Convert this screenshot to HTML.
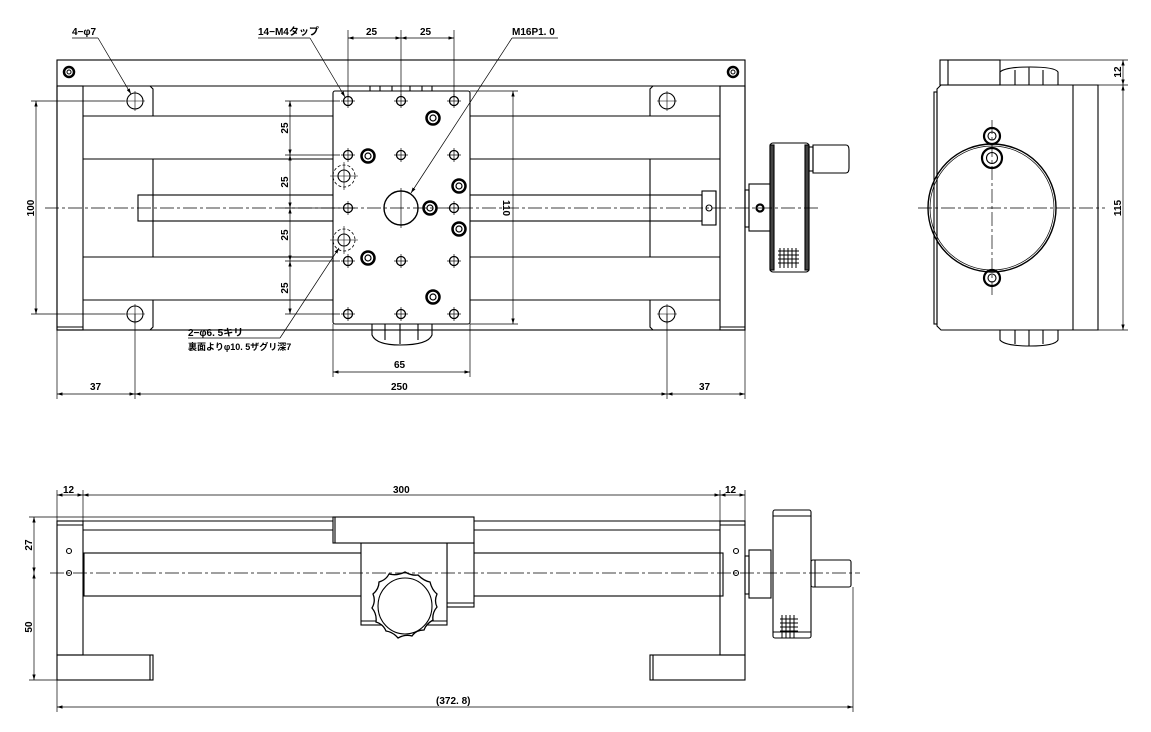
<!DOCTYPE html>
<html><head><meta charset="utf-8"><style>
html,body{margin:0;padding:0;background:#fff;}
svg{display:block;}
text{font-family:"Liberation Sans","Noto Sans CJK JP",sans-serif;font-weight:bold;font-size:10px;fill:#000;}
</style></head><body>
<svg width="1151" height="732" viewBox="0 0 1151 732" xmlns="http://www.w3.org/2000/svg">
<defs>
<marker id="a" viewBox="0 0 10 6" refX="10" refY="3" markerWidth="8" markerHeight="5" orient="auto-start-reverse"><path d="M0,0 L10,3 L0,6 z" fill="#000"/></marker>
<g id="tap"><circle r="4.5" fill="none" stroke="#000" stroke-width="1.3"/><line x1="-7" y1="0" x2="7" y2="0" stroke="#000" stroke-width="0.7"/><line x1="0" y1="-7" x2="0" y2="7" stroke="#000" stroke-width="0.7"/></g>
<g id="cb"><circle r="6.5" fill="none" stroke="#000" stroke-width="2.5"/><circle r="3" fill="none" stroke="#000" stroke-width="1.2"/></g>
<g id="mh"><circle r="8" fill="none" stroke="#000" stroke-width="1.1"/><line x1="-10" y1="0" x2="10" y2="0" stroke="#000" stroke-width="0.6"/><line x1="0" y1="-10" x2="0" y2="10" stroke="#000" stroke-width="0.6"/></g>
</defs>
<g fill="none" stroke="#000" stroke-width="1.1">
<!-- ===== TOP VIEW ===== -->
<rect x="57" y="60" width="688" height="270"/>
<line x1="57" y1="86" x2="745" y2="86"/>
<rect x="57" y="86" width="26" height="244"/>
<line x1="57" y1="327" x2="83" y2="327"/>
<rect x="720" y="86" width="25" height="244"/>
<line x1="720" y1="327" x2="745" y2="327"/>
<!-- base plates -->
<path d="M83,86 H150 L153,89 V116 M83,300 H153 V327 L150,330"/>
<path d="M720,86 H653 L650,89 V116 M720,300 H650 V327 L653,330"/>
<!-- rails -->
<line x1="83" y1="116" x2="720" y2="116"/>
<line x1="83" y1="159" x2="720" y2="159"/>
<line x1="83" y1="257" x2="720" y2="257"/>
<line x1="83" y1="300" x2="720" y2="300"/>
<line x1="153" y1="159" x2="153" y2="257"/>
<line x1="650" y1="159" x2="650" y2="257"/>
<rect x="138" y="195" width="564" height="26"/>
<rect x="702" y="191" width="14" height="34"/>
<line x1="716" y1="191" x2="716" y2="225"/>
<circle cx="709" cy="208" r="3"/>
<!-- carriage -->
<rect x="333" y="91" width="137" height="233" rx="2" fill="#fff"/>
<path d="M370,91 V86 H432 V91 M380,86 V91 M392,86 V91 M410,86 V91 M422,86 V91"/>
<path d="M372,324 V335 Q376,345 400,345 Q428,345 432,335 V324 M385,324 V340 M400,324 V344 M418,324 V340"/>
<circle cx="401" cy="208" r="17" stroke-width="1.4"/>
</g>
<g>
<use href="#tap" x="348" y="101"/><use href="#tap" x="401" y="101"/><use href="#tap" x="454" y="101"/>
<use href="#tap" x="348" y="155"/><use href="#tap" x="401" y="155"/><use href="#tap" x="454" y="155"/>
<use href="#tap" x="348" y="208"/><use href="#tap" x="454" y="208"/>
<use href="#tap" x="348" y="261"/><use href="#tap" x="401" y="261"/><use href="#tap" x="454" y="261"/>
<use href="#tap" x="348" y="314"/><use href="#tap" x="401" y="314"/><use href="#tap" x="454" y="314"/>
<use href="#cb" x="433" y="118"/><use href="#cb" x="368" y="156"/><use href="#cb" x="459" y="186"/>
<use href="#cb" x="430" y="208"/><use href="#cb" x="459" y="229"/><use href="#cb" x="368" y="258"/><use href="#cb" x="433" y="297"/>
<use href="#mh" x="135" y="101"/><use href="#mh" x="135" y="314"/><use href="#mh" x="667" y="101"/><use href="#mh" x="667" y="314"/>
</g>
<g fill="none" stroke="#000">
<circle cx="344" cy="176" r="6" stroke-width="1.1"/><circle cx="344" cy="176" r="11" stroke-dasharray="3,2" stroke-width="0.8"/>
<path d="M330,176 H358 M344,162 V190" stroke-width="0.6"/>
<circle cx="344" cy="240" r="6" stroke-width="1.1"/><circle cx="344" cy="240" r="11" stroke-dasharray="3,2" stroke-width="0.8"/>
<path d="M330,240 H358 M344,226 V254" stroke-width="0.6"/>
<circle cx="69" cy="72" r="5" stroke-width="2.5"/><circle cx="69" cy="72" r="2" stroke-width="1"/>
<circle cx="733" cy="72" r="5" stroke-width="2.5"/><circle cx="733" cy="72" r="2" stroke-width="1"/>
<!-- handwheel top -->
<g stroke-width="1.1">
<rect x="745" y="190" width="4" height="37"/>
<rect x="749" y="184" width="22" height="47"/>
<rect x="770" y="143" width="39" height="129" rx="3"/>
<rect x="770" y="145" width="4" height="125" fill="#444"/>
<rect x="805" y="145" width="4" height="125" fill="#444"/>
<rect x="809" y="147" width="4" height="24"/>
<path d="M813,145 H846 Q849,145 849,150 V168 Q849,173 846,173 H813 Z"/>
</g>
<circle cx="760" cy="208" r="3.5" stroke-width="2.2"/>
<path d="M780,248 V268 M784,248 V268 M788,248 V268 M792,248 V268 M796,248 V268 M778,251 H799 M778,255 H799 M778,259 H799 M778,263 H799" stroke-width="1"/>
<!-- centerline -->
<line x1="45" y1="208" x2="820" y2="208" stroke-width="0.7" stroke-dasharray="14,3,3,3"/>
<line x1="401" y1="188" x2="401" y2="228" stroke-width="0.7"/>
<!-- dims top view -->
<g stroke-width="0.7">
<path d="M348,30 V96 M401,30 V96 M454,30 V96"/>
<line x1="348" y1="38" x2="401" y2="38" marker-start="url(#a)" marker-end="url(#a)"/>
<line x1="401" y1="38" x2="454" y2="38" marker-start="url(#a)" marker-end="url(#a)"/>
<path d="M285,101 H340 M285,155 H340 M285,208 H340 M285,261 H340 M285,314 H340"/>
<line x1="290" y1="101" x2="290" y2="155" marker-start="url(#a)" marker-end="url(#a)"/>
<line x1="290" y1="155" x2="290" y2="208" marker-start="url(#a)" marker-end="url(#a)"/>
<line x1="290" y1="208" x2="290" y2="261" marker-start="url(#a)" marker-end="url(#a)"/>
<line x1="290" y1="261" x2="290" y2="314" marker-start="url(#a)" marker-end="url(#a)"/>
<path d="M31,101 H125 M31,314 H125"/>
<line x1="36" y1="101" x2="36" y2="314" marker-start="url(#a)" marker-end="url(#a)"/>
<path d="M470,91 H518 M470,324 H518"/>
<line x1="513" y1="91" x2="513" y2="324" marker-start="url(#a)" marker-end="url(#a)"/>
<path d="M333,324 V377 M470,324 V377"/>
<line x1="333" y1="372" x2="470" y2="372" marker-start="url(#a)" marker-end="url(#a)"/>
<path d="M57,330 V399 M745,330 V399 M135,314 V399 M667,314 V399"/>
<line x1="57" y1="394" x2="135" y2="394" marker-start="url(#a)" marker-end="url(#a)"/>
<line x1="135" y1="394" x2="667" y2="394" marker-start="url(#a)" marker-end="url(#a)"/>
<line x1="667" y1="394" x2="745" y2="394" marker-start="url(#a)" marker-end="url(#a)"/>
<!-- leaders -->
<path d="M72,38 H98"/><line x1="98" y1="38" x2="131" y2="94" marker-end="url(#a)"/>
<path d="M258,38 H310"/><line x1="310" y1="38" x2="345" y2="97" marker-end="url(#a)"/>
<path d="M512,38 H558"/><line x1="512" y1="38" x2="411" y2="193" marker-end="url(#a)"/>
<path d="M188,338 H280"/><line x1="280" y1="338" x2="339" y2="248" marker-end="url(#a)"/>
</g>

<!-- ===== SIDE VIEW ===== -->
<g stroke-width="1.1">
<rect x="940" y="60" width="60" height="25"/>
<line x1="948" y1="60" x2="948" y2="85"/>
<path d="M1000,85 V72 Q1005,67 1030,67 Q1055,67 1058,72 V85 M1015,70 V85 M1029,67 V85 M1043,70 V85"/>
<path d="M1000,330 V340 Q1005,346 1030,346 Q1055,346 1058,340 V330 M1015,330 V344 M1029,330 V346 M1043,330 V344"/>
<path d="M941,85 H1098 V330 H941 L937,326 V89 Z"/>
<line x1="1073" y1="85" x2="1073" y2="330"/>
<rect x="934" y="92" width="3" height="232"/>
<circle cx="992" cy="208" r="64" stroke-width="1.4"/>
<circle cx="992" cy="208" r="62" stroke-width="0.7"/>
<circle cx="992" cy="136" r="8" stroke-width="2.2"/><circle cx="992" cy="136" r="4"/>
<circle cx="992" cy="158" r="10" stroke-width="2.2"/><circle cx="992" cy="158" r="5.5"/>
<circle cx="992" cy="278" r="8" stroke-width="2.2"/><circle cx="992" cy="278" r="4"/>
</g>
<g stroke-width="0.7">
<line x1="918" y1="208" x2="1105" y2="208" stroke-dasharray="14,3,3,3"/>
<line x1="992" y1="120" x2="992" y2="295" stroke-dasharray="14,3,3,3"/>
<path d="M1000,60 H1128 M1098,85 H1128 M1098,330 H1128"/>
<line x1="1123" y1="60" x2="1123" y2="85" marker-start="url(#a)" marker-end="url(#a)"/>
<line x1="1123" y1="85" x2="1123" y2="330" marker-start="url(#a)" marker-end="url(#a)"/>
</g>

<!-- ===== FRONT VIEW (bottom) ===== -->
<g stroke-width="1.1">
<rect x="57" y="521" width="26" height="134"/>
<line x1="57" y1="525" x2="83" y2="525"/>
<rect x="720" y="521" width="25" height="134"/>
<line x1="720" y1="525" x2="745" y2="525"/>
<rect x="57" y="655" width="96" height="25"/><line x1="150" y1="655" x2="150" y2="680"/>
<rect x="650" y="655" width="95" height="25"/><line x1="653" y1="655" x2="653" y2="680"/>
<path d="M83,521 H720 M83,530 H720"/>
<rect x="84" y="553" width="639" height="43"/>
<rect x="447" y="543" width="27" height="64" fill="#fff"/>
<line x1="447" y1="603" x2="474" y2="603"/>
<rect x="361" y="543" width="86" height="82" fill="#fff"/>
<line x1="361" y1="621" x2="447" y2="621"/>
<rect x="333" y="517" width="141" height="26" fill="#fff"/>
<line x1="335" y1="517" x2="335" y2="543"/>
<path d="M405,572 Q412,576 418,575 Q424,581 430,582 Q432,590 437,594 Q434,601 437,607 Q432,613 433,620 Q426,624 424,630 Q416,630 412,636 Q405,634 398,638 Q393,632 386,631 Q383,624 376,622 Q377,614 372,608 Q376,601 373,594 Q379,589 379,582 Q386,580 389,574 Q397,576 405,572 Z" fill="#fff" stroke-width="1.3"/>
<ellipse cx="405" cy="606" rx="27" ry="28"/>
<circle cx="69" cy="551" r="2.5"/><circle cx="69" cy="573" r="2.5"/>
<circle cx="736" cy="551" r="2.5"/><circle cx="736" cy="573" r="2.5"/>
<rect x="745" y="556" width="4" height="38"/>
<rect x="749" y="550" width="22" height="48"/>
<rect x="773" y="510" width="38" height="128" rx="2"/>
<line x1="773" y1="516" x2="811" y2="516"/><line x1="773" y1="632" x2="811" y2="632"/>
<rect x="811" y="560" width="40" height="27" rx="2"/>
<line x1="815" y1="560" x2="815" y2="587"/>
</g>
<path d="M782,615 V638 M786,615 V638 M790,615 V638 M794,615 V638 M780,619 H798 M780,623 H798 M780,627 H798 M780,631 H798" stroke="#000" stroke-width="1"/>
<g stroke-width="0.7">
<line x1="50" y1="573" x2="860" y2="573" stroke-dasharray="14,3,3,3"/>
<path d="M57,490 V521 M83,490 V521 M720,490 V521 M745,490 V521"/>
<line x1="57" y1="495" x2="83" y2="495" marker-start="url(#a)" marker-end="url(#a)"/>
<line x1="83" y1="495" x2="720" y2="495" marker-start="url(#a)" marker-end="url(#a)"/>
<line x1="720" y1="495" x2="745" y2="495" marker-start="url(#a)" marker-end="url(#a)"/>
<path d="M29,517 H333 M29,680 H57"/>
<line x1="34" y1="517" x2="34" y2="573" marker-start="url(#a)" marker-end="url(#a)"/>
<line x1="34" y1="573" x2="34" y2="680" marker-start="url(#a)" marker-end="url(#a)"/>
<path d="M57,680 V712 M853,587 V712"/>
<line x1="57" y1="707" x2="853" y2="707" marker-start="url(#a)" marker-end="url(#a)"/>
</g>
</g>

<!-- texts -->
<text x="72" y="35">4−φ7</text>
<text x="258" y="35">14−M4タップ</text>
<text x="366" y="35">25</text>
<text x="420" y="35">25</text>
<text x="512" y="35">M16P1. 0</text>
<text x="188" y="336">2−φ6. 5キリ</text>
<text x="188" y="350" style="font-size:9px">裏面よりφ10. 5ザグリ深7</text>
<text x="394" y="368">65</text>
<text x="90" y="390">37</text>
<text x="391" y="390">250</text>
<text x="699" y="390">37</text>
<text transform="translate(288,128) rotate(-90)" text-anchor="middle">25</text>
<text transform="translate(288,182) rotate(-90)" text-anchor="middle">25</text>
<text transform="translate(288,235) rotate(-90)" text-anchor="middle">25</text>
<text transform="translate(288,288) rotate(-90)" text-anchor="middle">25</text>
<text transform="translate(34,208) rotate(-90)" text-anchor="middle">100</text>
<text transform="translate(503,208) rotate(90)" text-anchor="middle">110</text>
<text transform="translate(1121,72) rotate(-90)" text-anchor="middle">12</text>
<text transform="translate(1121,208) rotate(-90)" text-anchor="middle">115</text>
<text x="63" y="493">12</text>
<text x="393" y="493">300</text>
<text x="725" y="493">12</text>
<text transform="translate(32,545) rotate(-90)" text-anchor="middle">27</text>
<text transform="translate(32,627) rotate(-90)" text-anchor="middle">50</text>
<text x="436" y="704">(372. 8)</text>
</svg>
</body></html>
